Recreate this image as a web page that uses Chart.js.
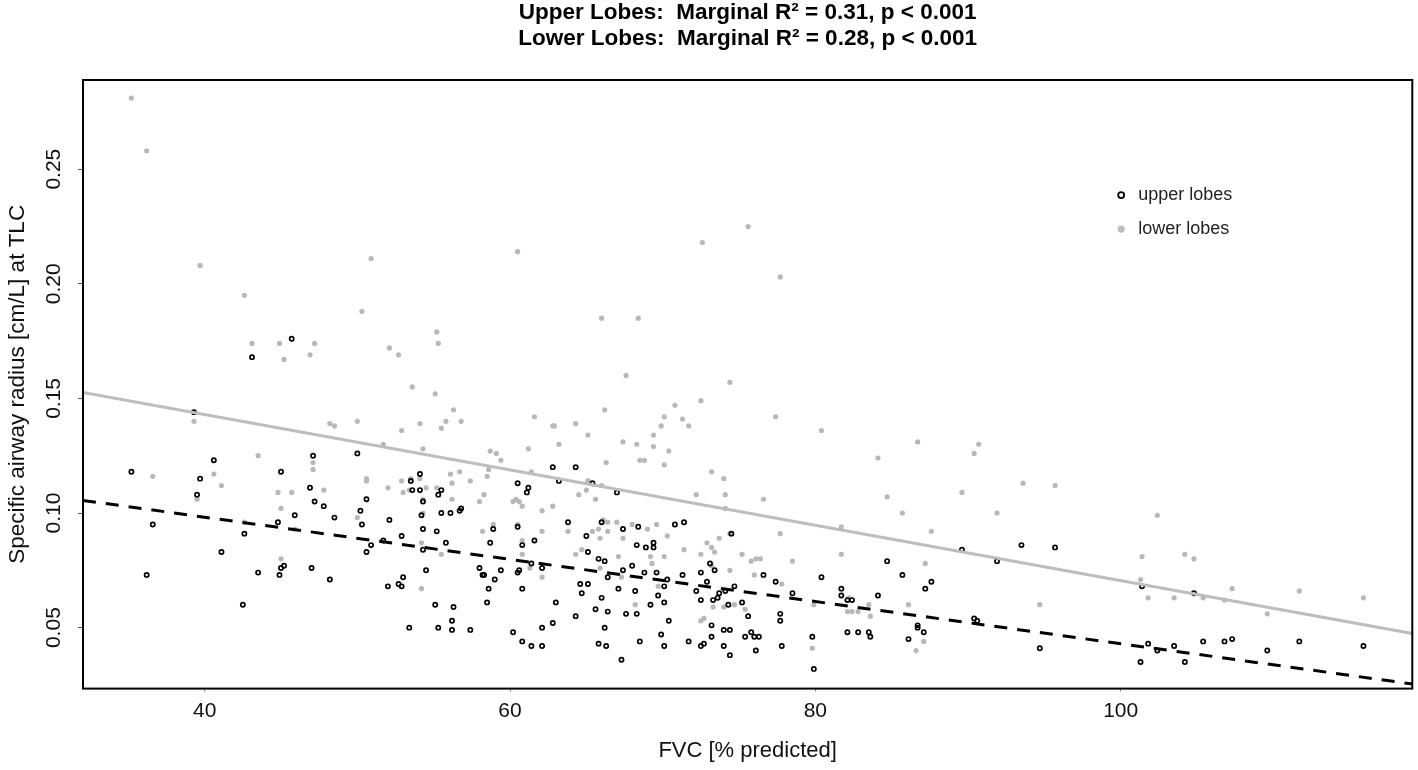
<!DOCTYPE html>
<html>
<head>
<meta charset="utf-8">
<script src="https://cdn.jsdelivr.net/npm/chart.js@4.4.1/dist/chart.umd.min.js"></script>
<style>
  html, body { margin: 0; padding: 0; background: #fff; }
  #wrap { width: 1418px; height: 770px; }
</style>
</head>
<body>
<div id="wrap"><canvas id="scatter" width="1418" height="770"></canvas></div>
<script>
// FVC [% predicted] for each upper lobe measurement
const upperX = [45.7, 43.1, 39.3, 35.2, 40.6, 39.7, 39.5, 45.0, 47.1, 50.0, 46.9, 47.2, 47.8, 48.5, 45.9, 44.8,
  36.6, 42.6, 41.1, 36.2, 43.5, 42.5, 44.9, 45.0, 45.2, 47.0, 48.2, 50.2, 50.3, 50.6, 50.6, 50.9, 51.7, 52.1,
  52.9, 52.0, 52.7, 52.9, 53.0, 53.4, 53.5, 53.6, 54.1, 54.1, 54.3, 54.2, 54.3, 54.3, 54.5, 55.2, 55.3, 55.5,
  55.5, 56.1, 56.7, 56.8, 55.8, 55.1, 56.3, 56.2, 55.3, 56.2, 57.4, 58.0, 58.2, 58.3, 58.7, 58.9, 59.0, 58.6,
  58.5, 59.4, 60.5, 61.2, 61.1, 60.5, 60.8, 61.6, 60.6, 60.5, 60.8, 61.4, 62.1, 60.2, 60.8, 61.4, 62.1, 62.1,
  62.8, 62.8, 64.3, 63.2, 65.4, 67.0, 63.8, 66.0, 65.0, 67.4, 68.4, 70.8, 71.4, 65.1, 68.3, 68.9, 69.4, 69.4,
  65.8, 66.2, 68.0, 67.4, 66.4, 68.8, 69.6, 70.3, 70.1, 71.3, 72.5, 73.1, 73.4, 72.9, 74.5, 64.6, 65.1, 64.7,
  67.1, 68.2, 69.7, 70.1, 69.2, 66.0, 63.0, 66.4, 65.6, 67.6, 68.3, 64.3, 66.2, 70.4, 65.8, 66.3, 67.3, 68.5,
  69.9, 70.1, 71.7, 72.5, 72.7, 73.2, 74.0, 74.4, 74.0, 74.4, 73.2, 72.2, 72.5, 73.3, 73.6, 73.7, 74.1, 74.7,
  75.2, 74.3, 75.6, 75.8, 76.0, 76.3, 75.4, 76.1, 76.6, 77.4, 77.7, 77.7, 77.8, 78.5, 79.8, 79.9, 80.4, 81.7,
  81.7, 82.1, 82.4, 82.1, 82.8, 83.5, 83.6, 84.1, 84.7, 85.7, 87.2, 87.6, 86.7, 86.7, 86.1, 87.1, 89.6, 90.4,
  90.6, 91.9, 93.5, 95.7, 94.7, 101.4, 101.3, 101.8, 102.4, 103.5, 104.2, 104.8, 105.4, 106.8, 107.3, 109.6,
  111.7, 115.9];
// specific airway radius [cm/L] at TLC, upper lobes
const upperY = [0.176, 0.168, 0.144, 0.118, 0.123, 0.115, 0.108, 0.118, 0.125, 0.126, 0.111, 0.105, 0.103, 0.098,
  0.099, 0.096, 0.095, 0.091, 0.083, 0.073, 0.074, 0.060, 0.073, 0.076, 0.077, 0.076, 0.071, 0.101, 0.095, 0.106,
  0.083, 0.086, 0.088, 0.097, 0.090, 0.068, 0.069, 0.068, 0.072, 0.050, 0.114, 0.110, 0.117, 0.110, 0.105, 0.099,
  0.093, 0.084, 0.075, 0.092, 0.108, 0.110, 0.100, 0.100, 0.101, 0.102, 0.087, 0.060, 0.059, 0.053, 0.050, 0.049,
  0.049, 0.076, 0.073, 0.073, 0.087, 0.093, 0.071, 0.067, 0.061, 0.075, 0.113, 0.111, 0.109, 0.094, 0.086, 0.088,
  0.075, 0.074, 0.067, 0.078, 0.076, 0.048, 0.044, 0.042, 0.042, 0.050, 0.052, 0.120, 0.120, 0.114, 0.113, 0.109,
  0.096, 0.096, 0.090, 0.093, 0.094, 0.095, 0.096, 0.083, 0.086, 0.085, 0.087, 0.085, 0.080, 0.079, 0.077, 0.075,
  0.072, 0.074, 0.074, 0.071, 0.068, 0.073, 0.074, 0.078, 0.075, 0.070, 0.091, 0.069, 0.069, 0.065, 0.067, 0.066,
  0.064, 0.061, 0.060, 0.063, 0.061, 0.057, 0.058, 0.056, 0.056, 0.055, 0.050, 0.053, 0.043, 0.042, 0.036, 0.044,
  0.047, 0.042, 0.044, 0.042, 0.043, 0.046, 0.042, 0.038, 0.049, 0.049, 0.051, 0.066, 0.062, 0.062, 0.063, 0.065,
  0.066, 0.068, 0.061, 0.060, 0.055, 0.048, 0.046, 0.046, 0.046, 0.040, 0.073, 0.070, 0.056, 0.053, 0.042, 0.065,
  0.046, 0.032, 0.072, 0.067, 0.064, 0.062, 0.062, 0.048, 0.048, 0.048, 0.046, 0.064, 0.079, 0.073, 0.067, 0.070,
  0.050, 0.051, 0.045, 0.048, 0.084, 0.054, 0.053, 0.079, 0.086, 0.085, 0.041, 0.068, 0.035, 0.043, 0.040, 0.042,
  0.035, 0.065, 0.044, 0.044, 0.045, 0.040, 0.044, 0.042];

// FVC [% predicted] for each lower lobe measurement
const lowerX = [35.2, 36.2, 39.7, 42.6, 50.9, 60.5, 50.3, 43.1, 44.9, 47.2, 45.2, 46.9, 52.1, 52.7, 55.2, 55.3,
  53.6, 39.3, 55.1, 56.3, 48.2, 48.5, 50.0, 52.9, 54.1, 55.8, 55.5, 56.8, 61.6, 62.8, 51.7, 54.3, 58.7, 59.1,
  59.4, 61.2, 58.6, 61.4, 43.5, 36.6, 40.6, 41.1, 39.5, 47.1, 47.1, 44.8, 45.7, 45.0, 47.8, 50.6, 50.6, 52.0,
  52.9, 53.0, 53.5, 53.4, 54.1, 54.5, 54.3, 54.3, 55.2, 56.1, 56.2, 56.2, 56.7, 57.4, 58.0, 58.3, 58.5, 60.2,
  60.4, 60.6, 60.8, 62.1, 50.0, 42.6, 45.9, 58.9, 58.2, 60.5, 62.1, 54.2, 55.5, 60.8, 60.8, 61.3, 62.1, 45.0,
  54.2, 75.6, 72.6, 77.7, 66.0, 68.4, 67.6, 74.4, 66.2, 70.8, 72.5, 62.9, 64.3, 63.2, 65.1, 67.4, 68.3, 70.1,
  69.9, 71.3, 71.7, 69.4, 69.4, 70.4, 70.1, 68.5, 68.8, 66.3, 77.4, 80.4, 86.7, 90.7, 90.4, 84.1, 89.6, 84.7,
  85.7, 91.9, 93.6, 87.6, 87.2, 86.1, 86.6, 87.1, 73.2, 74.0, 74.1, 74.1, 72.2, 76.6, 77.7, 81.7, 81.7, 78.5,
  77.8, 79.9, 79.8, 82.1, 82.4, 82.8, 83.5, 83.6, 82.2, 62.8, 63.8, 64.5, 65.0, 65.1, 65.6, 66.0, 66.1, 66.4,
  65.4, 65.8, 65.9, 66.4, 67.0, 67.4, 68.0, 69.0, 69.6, 70.3, 64.7, 64.3, 67.1, 69.2, 69.3, 70.1, 71.4, 72.5,
  72.9, 73.2, 73.4, 73.7, 74.4, 75.2, 75.8, 76.1, 76.4, 74.4, 73.2, 76.0, 67.3, 65.9, 68.2, 69.7, 73.3, 74.0,
  74.7, 75.4, 72.5, 72.7, 95.7, 102.4, 101.4, 101.3, 104.2, 104.8, 101.8, 103.5, 105.4, 106.8, 107.3, 109.6,
  111.7, 115.9, 94.7];
// specific airway radius [cm/L] at TLC, lower lobes
const lowerY = [0.281, 0.258, 0.208, 0.195, 0.211, 0.214, 0.188, 0.174, 0.174, 0.174, 0.167, 0.169, 0.172, 0.169,
  0.179, 0.174, 0.155, 0.140, 0.152, 0.145, 0.139, 0.138, 0.140, 0.136, 0.139, 0.140, 0.137, 0.140, 0.142, 0.138,
  0.130, 0.128, 0.127, 0.126, 0.123, 0.128, 0.119, 0.118, 0.125, 0.116, 0.117, 0.112, 0.106, 0.122, 0.119, 0.109,
  0.109, 0.102, 0.110, 0.115, 0.114, 0.111, 0.114, 0.109, 0.115, 0.110, 0.115, 0.111, 0.106, 0.100, 0.111, 0.117,
  0.113, 0.106, 0.118, 0.114, 0.105, 0.108, 0.116, 0.105, 0.106, 0.105, 0.103, 0.101, 0.098, 0.096, 0.093, 0.095,
  0.092, 0.095, 0.092, 0.087, 0.082, 0.082, 0.088, 0.076, 0.072, 0.080, 0.067, 0.225, 0.218, 0.203, 0.185, 0.185,
  0.160, 0.157, 0.145, 0.147, 0.149, 0.138, 0.139, 0.130, 0.134, 0.131, 0.130, 0.142, 0.138, 0.141, 0.138, 0.134,
  0.129, 0.127, 0.121, 0.123, 0.123, 0.122, 0.142, 0.136, 0.131, 0.130, 0.126, 0.124, 0.109, 0.107, 0.100, 0.100,
  0.113, 0.092, 0.078, 0.060, 0.040, 0.044, 0.118, 0.115, 0.108, 0.102, 0.108, 0.106, 0.091, 0.094, 0.082, 0.079,
  0.069, 0.060, 0.041, 0.057, 0.057, 0.057, 0.060, 0.055, 0.063, 0.103, 0.092, 0.108, 0.110, 0.114, 0.106, 0.112,
  0.097, 0.096, 0.092, 0.093, 0.089, 0.092, 0.096, 0.089, 0.095, 0.093, 0.095, 0.090, 0.084, 0.082, 0.081, 0.081,
  0.078, 0.081, 0.084, 0.082, 0.087, 0.085, 0.083, 0.089, 0.091, 0.082, 0.079, 0.080, 0.080, 0.075, 0.077, 0.073,
  0.072, 0.076, 0.060, 0.068, 0.059, 0.059, 0.060, 0.058, 0.053, 0.054, 0.112, 0.099, 0.081, 0.071, 0.082, 0.080,
  0.063, 0.063, 0.063, 0.062, 0.067, 0.056, 0.066, 0.063, 0.060];

// fitted lines, evaluated at both ends of the x axis
const fitX = [32.03, 119.1];
const upperFit = [0.1055, 0.0254];
const lowerFit = [0.1526, 0.0474];

const titleLines = [
  "Upper Lobes:  Marginal R\u00b2 = 0.31, p < 0.001",
  "Lower Lobes:  Marginal R\u00b2 = 0.28, p < 0.001"
];
const seriesNames = ["upper lobes", "lower lobes"];
const xLabel = "FVC [% predicted]";
const yLabel = "Specific airway radius [cm/L] at TLC";

function pairs(xs, ys) {
  return xs.map((x, i) => ({ x: x, y: ys[i] }));
}

// black box round the plot region
const frame = {
  id: "frame",
  afterDatasetsDraw(chart) {
    const a = chart.chartArea;
    const ctx = chart.ctx;
    ctx.save();
    ctx.strokeStyle = "#000";
    ctx.lineWidth = 2;
    ctx.strokeRect(a.left, a.top, a.right - a.left, a.bottom - a.top);
    ctx.restore();
  }
};

// legend inside the plot, top right, no box
const insideLegend = {
  id: "insideLegend",
  afterDraw(chart) {
    const a = chart.chartArea;
    const ctx = chart.ctx;
    const mx = a.left + (a.right - a.left) * 0.781;
    const y0 = a.top + (a.bottom - a.top) * 0.189;
    const gap = 34;
    ctx.save();
    ctx.font = "18px 'Liberation Sans', Arial, sans-serif";
    ctx.textBaseline = "middle";
    ctx.fillStyle = "#222";

    ctx.beginPath();
    ctx.arc(mx, y0, 3, 0, Math.PI * 2);
    ctx.strokeStyle = "#000";
    ctx.lineWidth = 1.8;
    ctx.stroke();
    ctx.fillText(seriesNames[0], mx + 17, y0);

    ctx.beginPath();
    ctx.arc(mx, y0 + gap, 3.6, 0, Math.PI * 2);
    ctx.fillStyle = "#bdbdbd";
    ctx.fill();
    ctx.fillStyle = "#222";
    ctx.fillText(seriesNames[1], mx + 17, y0 + gap);
    ctx.restore();
  }
};

Chart.defaults.font.family = "'Liberation Sans', Arial, sans-serif";
Chart.defaults.color = "#111";

new Chart(document.getElementById("scatter"), {
  type: "scatter",
  data: {
    datasets: [
      {
        label: "upper fit",
        data: pairs(fitX, upperFit),
        showLine: true,
        borderColor: "#000",
        borderWidth: 3,
        borderDash: [13, 10],
        pointRadius: 0
      },
      {
        label: "lower fit",
        data: pairs(fitX, lowerFit),
        showLine: true,
        borderColor: "#bdbdbd",
        borderWidth: 3,
        pointRadius: 0
      },
      {
        label: seriesNames[0],
        data: pairs(upperX, upperY),
        pointRadius: 2.1,
        borderWidth: 1.7,
        borderColor: "#000",
        backgroundColor: "rgba(0,0,0,0)"
      },
      {
        label: seriesNames[1],
        data: pairs(lowerX, lowerY),
        pointRadius: 2.6,
        borderWidth: 0,
        backgroundColor: "#b8b8b8"
      }
    ]
  },
  options: {
    responsive: false,
    animation: false,
    devicePixelRatio: 1,
    layout: { padding: { left: 0, right: -3, top: 0, bottom: 0 } },
    plugins: {
      legend: { display: false },
      tooltip: { enabled: false },
      title: {
        display: true,
        text: titleLines,
        fullSize: false,
        color: "#000",
        font: { size: 22.5, weight: "bold", lineHeight: 1.16 },
        padding: { top: 0, bottom: 27.8 }
      }
    },
    scales: {
      x: {
        type: "linear",
        min: 32.03,
        max: 119.1,
        border: { display: false },
        grid: { drawOnChartArea: false, tickLength: 3, color: "#888" },
        ticks: {
          stepSize: 20,
          includeBounds: false,
          padding: 7.4,
          font: { size: 21 },
          callback: v => String(v)
        },
        title: {
          display: true,
          text: xLabel,
          font: { size: 22 },
          padding: { top: 6.6, bottom: 5.4 }
        }
      },
      y: {
        type: "linear",
        min: 0.0234,
        max: 0.2889,
        border: { display: false },
        grid: { drawOnChartArea: false, tickLength: 5, color: "#555" },
        ticks: {
          stepSize: 0.05,
          includeBounds: false,
          minRotation: 90,
          maxRotation: 90,
          crossAlign: "center",
          padding: 3,
          font: { size: 21 },
          callback: v => v.toFixed(2)
        },
        title: {
          display: true,
          text: yLabel,
          font: { size: 22.5 },
          padding: { top: 4.5, bottom: 15.3 }
        }
      }
    }
  },
  plugins: [frame, insideLegend]
});
</script>
</body>
</html>
